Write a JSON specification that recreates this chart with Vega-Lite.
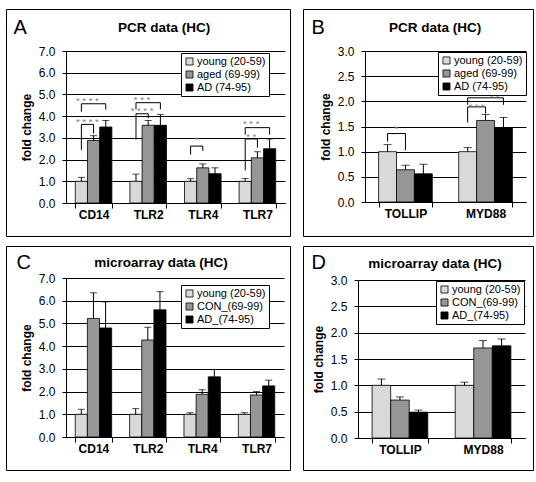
{
 "$schema": "https://vega.github.io/schema/vega-lite/v6.json",
 "padding": {"left": 5, "top": 8, "right": 0, "bottom": 0},
 "background": "white",
 "spacing": 8,
 "resolve": {"scale": {"color": "independent", "xOffset": "independent"}, "legend": {"color": "independent"}},
 "config": {
  "font": "Liberation Sans",
  "view": {"stroke": "black", "strokeWidth": 1},
  "title": {"fontSize": 13.5, "fontWeight": "bold", "color": "black", "anchor": "middle", "frame": "group"},
  "axis": {"domainColor": "black", "tickColor": "black", "labelColor": "black", "titleColor": "black", "gridColor": "black", "gridOpacity": 1, "gridWidth": 1, "domainWidth": 1, "tickWidth": 1},
  "axisBottom": {"labelFontSize": 12, "labelFontWeight": "bold", "labelAngle": 0, "tickBand": "extent", "tickSize": 5, "labelPadding": 1, "grid": false},
  "axisLeft": {"labelFontSize": 12, "tickSize": 4, "labelPadding": 7, "titleFontSize": 12, "titleFontWeight": "bold", "titlePadding": 5, "grid": true, "labelOverlap": false},
  "axisTop": {"labels": false, "ticks": false, "domain": false, "grid": false, "titleAngle": 0, "titleFontSize": 20, "titleFontWeight": "normal", "titleAlign": "left", "titleBaseline": "alphabetic"},
  "legend": {"orient": "none", "strokeColor": "black", "fillColor": "white", "padding": 3, "symbolType": "square", "symbolSize": 50, "symbolStrokeColor": "black", "symbolStrokeWidth": 1, "labelFontSize": 11, "labelColor": "black", "rowPadding": 1, "labelOffset": 2, "cornerRadius": 0},
  "bar": {"stroke": "black", "strokeWidth": 0.8},
  "tick": {"color": "black", "thickness": 1},
  "rule": {"color": "black"},
  "line": {"color": "black", "strokeWidth": 1}
 },
 "datasets": {
  "bars": [
   {"panel": "A", "gene": "CD14", "group": "young (20-59)", "value": 1.0, "err": 1.18},
   {"panel": "A", "gene": "CD14", "group": "aged (69-99)", "value": 2.88, "err": 3.1},
   {"panel": "A", "gene": "CD14", "group": "AD (74-95)", "value": 3.5, "err": 3.8},
   {"panel": "A", "gene": "TLR2", "group": "young (20-59)", "value": 1.0, "err": 1.33},
   {"panel": "A", "gene": "TLR2", "group": "aged (69-99)", "value": 3.58, "err": 3.8},
   {"panel": "A", "gene": "TLR2", "group": "AD (74-95)", "value": 3.58, "err": 4.08},
   {"panel": "A", "gene": "TLR4", "group": "young (20-59)", "value": 1.0, "err": 1.12},
   {"panel": "A", "gene": "TLR4", "group": "aged (69-99)", "value": 1.62, "err": 1.8},
   {"panel": "A", "gene": "TLR4", "group": "AD (74-95)", "value": 1.35, "err": 1.62},
   {"panel": "A", "gene": "TLR7", "group": "young (20-59)", "value": 1.0, "err": 1.13},
   {"panel": "A", "gene": "TLR7", "group": "aged (69-99)", "value": 2.08, "err": 2.36},
   {"panel": "A", "gene": "TLR7", "group": "AD (74-95)", "value": 2.5, "err": 2.95},
   {"panel": "B", "gene": "TOLLIP", "group": "young (20-59)", "value": 1.0, "err": 1.14},
   {"panel": "B", "gene": "TOLLIP", "group": "aged (69-99)", "value": 0.64, "err": 0.73},
   {"panel": "B", "gene": "TOLLIP", "group": "AD (74-95)", "value": 0.56, "err": 0.75},
   {"panel": "B", "gene": "MYD88", "group": "young (20-59)", "value": 1.0, "err": 1.08},
   {"panel": "B", "gene": "MYD88", "group": "aged (69-99)", "value": 1.62, "err": 1.74},
   {"panel": "B", "gene": "MYD88", "group": "AD (74-95)", "value": 1.47, "err": 1.68},
   {"panel": "C", "gene": "CD14", "group": "young (20-59)", "value": 1.0, "err": 1.22},
   {"panel": "C", "gene": "CD14", "group": "CON_(69-99)", "value": 5.22, "err": 6.35},
   {"panel": "C", "gene": "CD14", "group": "AD_(74-95)", "value": 4.8, "err": 5.95},
   {"panel": "C", "gene": "TLR2", "group": "young (20-59)", "value": 1.0, "err": 1.25},
   {"panel": "C", "gene": "TLR2", "group": "CON_(69-99)", "value": 4.27, "err": 4.83},
   {"panel": "C", "gene": "TLR2", "group": "AD_(74-95)", "value": 5.6, "err": 6.4},
   {"panel": "C", "gene": "TLR4", "group": "young (20-59)", "value": 1.0, "err": 1.07},
   {"panel": "C", "gene": "TLR4", "group": "CON_(69-99)", "value": 1.88, "err": 2.08},
   {"panel": "C", "gene": "TLR4", "group": "AD_(74-95)", "value": 2.65, "err": 2.97},
   {"panel": "C", "gene": "TLR7", "group": "young (20-59)", "value": 1.0, "err": 1.07},
   {"panel": "C", "gene": "TLR7", "group": "CON_(69-99)", "value": 1.85, "err": 2.0},
   {"panel": "C", "gene": "TLR7", "group": "AD_(74-95)", "value": 2.25, "err": 2.5},
   {"panel": "D", "gene": "TOLLIP", "group": "young (20-59)", "value": 1.0, "err": 1.12},
   {"panel": "D", "gene": "TOLLIP", "group": "CON_(69-99)", "value": 0.72, "err": 0.78},
   {"panel": "D", "gene": "TOLLIP", "group": "AD_(74-95)", "value": 0.49, "err": 0.53},
   {"panel": "D", "gene": "MYD88", "group": "young (20-59)", "value": 1.0, "err": 1.06},
   {"panel": "D", "gene": "MYD88", "group": "CON_(69-99)", "value": 1.71, "err": 1.85},
   {"panel": "D", "gene": "MYD88", "group": "AD_(74-95)", "value": 1.75, "err": 1.88}
  ],
  "brackets": [
   {"panel": "A", "gene": "CD14", "br": "A1", "ord": 1, "group": "young (20-59)", "y": 2.45},
   {"panel": "A", "gene": "CD14", "br": "A1", "ord": 2, "group": "young (20-59)", "y": 3.62},
   {"panel": "A", "gene": "CD14", "br": "A1", "ord": 3, "group": "aged (69-99)", "y": 3.62},
   {"panel": "A", "gene": "CD14", "br": "A1", "ord": 4, "group": "aged (69-99)", "y": 3.2},
   {"panel": "A", "gene": "CD14", "br": "A2", "ord": 1, "group": "young (20-59)", "y": 4.2},
   {"panel": "A", "gene": "CD14", "br": "A2", "ord": 2, "group": "young (20-59)", "y": 4.57},
   {"panel": "A", "gene": "CD14", "br": "A2", "ord": 3, "group": "AD (74-95)", "y": 4.57},
   {"panel": "A", "gene": "CD14", "br": "A2", "ord": 4, "group": "AD (74-95)", "y": 4.3},
   {"panel": "A", "gene": "TLR2", "br": "A3", "ord": 1, "group": "young (20-59)", "y": 2.92},
   {"panel": "A", "gene": "TLR2", "br": "A3", "ord": 2, "group": "young (20-59)", "y": 4.11},
   {"panel": "A", "gene": "TLR2", "br": "A3", "ord": 3, "group": "aged (69-99)", "y": 4.11},
   {"panel": "A", "gene": "TLR2", "br": "A3", "ord": 4, "group": "aged (69-99)", "y": 3.9},
   {"panel": "A", "gene": "TLR2", "br": "A4", "ord": 1, "group": "young (20-59)", "y": 4.31},
   {"panel": "A", "gene": "TLR2", "br": "A4", "ord": 2, "group": "young (20-59)", "y": 4.62},
   {"panel": "A", "gene": "TLR2", "br": "A4", "ord": 3, "group": "AD (74-95)", "y": 4.62},
   {"panel": "A", "gene": "TLR2", "br": "A4", "ord": 4, "group": "AD (74-95)", "y": 4.31},
   {"panel": "A", "gene": "TLR4", "br": "A5", "ord": 1, "group": "young (20-59)", "y": 2.23},
   {"panel": "A", "gene": "TLR4", "br": "A5", "ord": 2, "group": "young (20-59)", "y": 2.62},
   {"panel": "A", "gene": "TLR4", "br": "A5", "ord": 3, "group": "aged (69-99)", "y": 2.62},
   {"panel": "A", "gene": "TLR4", "br": "A5", "ord": 4, "group": "aged (69-99)", "y": 2.4},
   {"panel": "A", "gene": "TLR7", "br": "A6", "ord": 1, "group": "young (20-59)", "y": 1.5},
   {"panel": "A", "gene": "TLR7", "br": "A6", "ord": 2, "group": "young (20-59)", "y": 2.95},
   {"panel": "A", "gene": "TLR7", "br": "A6", "ord": 3, "group": "aged (69-99)", "y": 2.95},
   {"panel": "A", "gene": "TLR7", "br": "A6", "ord": 4, "group": "aged (69-99)", "y": 2.55},
   {"panel": "A", "gene": "TLR7", "br": "A7", "ord": 1, "group": "young (20-59)", "y": 3.15},
   {"panel": "A", "gene": "TLR7", "br": "A7", "ord": 2, "group": "young (20-59)", "y": 3.47},
   {"panel": "A", "gene": "TLR7", "br": "A7", "ord": 3, "group": "AD (74-95)", "y": 3.47},
   {"panel": "A", "gene": "TLR7", "br": "A7", "ord": 4, "group": "AD (74-95)", "y": 3.15},
   {"panel": "B", "gene": "TOLLIP", "br": "B1", "ord": 1, "group": "young (20-59)", "y": 1.2},
   {"panel": "B", "gene": "TOLLIP", "br": "B1", "ord": 2, "group": "young (20-59)", "y": 1.36},
   {"panel": "B", "gene": "TOLLIP", "br": "B1", "ord": 3, "group": "aged (69-99)", "y": 1.36},
   {"panel": "B", "gene": "TOLLIP", "br": "B1", "ord": 4, "group": "aged (69-99)", "y": 1.03},
   {"panel": "B", "gene": "MYD88", "br": "B2", "ord": 1, "group": "young (20-59)", "y": 1.58},
   {"panel": "B", "gene": "MYD88", "br": "B2", "ord": 2, "group": "young (20-59)", "y": 1.89},
   {"panel": "B", "gene": "MYD88", "br": "B2", "ord": 3, "group": "aged (69-99)", "y": 1.89},
   {"panel": "B", "gene": "MYD88", "br": "B2", "ord": 4, "group": "aged (69-99)", "y": 1.76},
   {"panel": "B", "gene": "MYD88", "br": "B3", "ord": 1, "group": "young (20-59)", "y": 1.93},
   {"panel": "B", "gene": "MYD88", "br": "B3", "ord": 2, "group": "young (20-59)", "y": 2.07},
   {"panel": "B", "gene": "MYD88", "br": "B3", "ord": 3, "group": "AD (74-95)", "y": 2.07},
   {"panel": "B", "gene": "MYD88", "br": "B3", "ord": 4, "group": "AD (74-95)", "y": 1.93}
  ],
  "stars": [
   {"panel": "A", "gene": "CD14", "group": "young (20-59)", "y": 3.85, "stars": "* * * *"},
   {"panel": "A", "gene": "CD14", "group": "young (20-59)", "y": 4.82, "stars": "* * * *"},
   {"panel": "A", "gene": "TLR2", "group": "young (20-59)", "y": 4.35, "stars": "* * * *"},
   {"panel": "A", "gene": "TLR2", "group": "young (20-59)", "y": 4.86, "stars": "* * *"},
   {"panel": "A", "gene": "TLR4", "group": "young (20-59)", "y": 3.0, "stars": "*"},
   {"panel": "A", "gene": "TLR7", "group": "young (20-59)", "y": 3.17, "stars": "* *"},
   {"panel": "A", "gene": "TLR7", "group": "young (20-59)", "y": 3.75, "stars": "* * *"},
   {"panel": "B", "gene": "TOLLIP", "group": "young (20-59)", "y": 1.5, "stars": "*"},
   {"panel": "B", "gene": "MYD88", "group": "young (20-59)", "y": 1.94, "stars": "* * *"},
   {"panel": "B", "gene": "MYD88", "group": "aged (69-99)", "y": 2.13, "stars": "* *"}
  ]
 },
 "vconcat": [
  {
   "spacing": 11,
   "resolve": {"scale": {"color": "independent", "xOffset": "independent"}, "legend": {"color": "independent"}},
   "hconcat": [
    {
     "width": 284, "height": 227,
     "title": {"text": "PCR data (HC)", "offset": -25, "dx": 16},
     "resolve": {"axis": {"x": "independent"}},
     "layer": [
      {
       "data": {"name": "bars"}, "transform": [{"filter": "datum.panel == 'A'"}],
       "mark": "bar",
       "encoding": {
        "x": {"field": "gene", "type": "nominal", "sort": ["CD14", "TLR2", "TLR4", "TLR7"], "scale": {"range": [60, 279], "paddingInner": 0.33, "paddingOuter": 0.17}, "axis": {"orient": "bottom", "offset": -33, "title": null}},
        "xOffset": {"field": "group", "type": "nominal", "sort": ["young (20-59)", "aged (69-99)", "AD (74-95)"], "scale": {"paddingInner": 0, "paddingOuter": 0}},
        "y": {"field": "value", "type": "quantitative", "scale": {"domain": [0, 7], "range": [194, 42], "nice": false}, "axis": {"offset": -60, "values": [0, 1, 2, 3, 4, 5, 6, 7], "format": ".1f", "title": "fold change"}},
        "color": {"field": "group", "type": "nominal", "sort": ["young (20-59)", "aged (69-99)", "AD (74-95)"], "scale": {"range": ["#d9d9d9", "#969696", "#000000"]}, "legend": {"title": null, "legendX": 175, "legendY": 44}}
       }
      },
      {
       "data": {"name": "bars"}, "transform": [{"filter": "datum.panel == 'A'"}],
       "mark": "rule",
       "encoding": {
        "x": {"field": "gene", "type": "nominal", "sort": ["CD14", "TLR2", "TLR4", "TLR7"], "axis": {"orient": "top", "title": "A", "titleX": 7, "titleY": 24}},
        "xOffset": {"field": "group", "type": "nominal", "sort": ["young (20-59)", "aged (69-99)", "AD (74-95)"]},
        "y": {"field": "value", "type": "quantitative", "axis": {"offset": -60, "values": [0, 1, 2, 3, 4, 5, 6, 7], "format": ".1f", "title": "fold change"}},
        "y2": {"field": "err"}
       }
      },
      {
       "data": {"name": "bars"}, "transform": [{"filter": "datum.panel == 'A'"}],
       "mark": {"type": "tick", "orient": "horizontal", "size": 7},
       "encoding": {
        "x": {"field": "gene", "type": "nominal", "sort": ["CD14", "TLR2", "TLR4", "TLR7"], "axis": null},
        "xOffset": {"field": "group", "type": "nominal", "sort": ["young (20-59)", "aged (69-99)", "AD (74-95)"]},
        "y": {"field": "err", "type": "quantitative", "axis": {"offset": -60, "values": [0, 1, 2, 3, 4, 5, 6, 7], "format": ".1f", "title": "fold change"}}
       }
      },
      {
       "data": {"name": "brackets"}, "transform": [{"filter": "datum.panel == 'A'"}],
       "mark": "line",
       "encoding": {
        "x": {"field": "gene", "type": "nominal", "sort": ["CD14", "TLR2", "TLR4", "TLR7"], "axis": null},
        "xOffset": {"field": "group", "type": "nominal", "sort": ["young (20-59)", "aged (69-99)", "AD (74-95)"]},
        "y": {"field": "y", "type": "quantitative", "axis": {"offset": -60, "values": [0, 1, 2, 3, 4, 5, 6, 7], "format": ".1f", "title": "fold change"}},
        "detail": {"field": "br"},
        "order": {"field": "ord", "type": "quantitative"}
       }
      },
      {
       "data": {"name": "stars"}, "transform": [{"filter": "datum.panel == 'A'"}],
       "mark": {"type": "text", "dx": 6, "dy": 2.5, "baseline": "middle", "align": "center", "fontSize": 9.5, "color": "#808080"},
       "encoding": {
        "x": {"field": "gene", "type": "nominal", "sort": ["CD14", "TLR2", "TLR4", "TLR7"], "axis": null},
        "xOffset": {"field": "group", "type": "nominal", "sort": ["young (20-59)", "aged (69-99)", "AD (74-95)"]},
        "y": {"field": "y", "type": "quantitative", "axis": {"offset": -60, "values": [0, 1, 2, 3, 4, 5, 6, 7], "format": ".1f", "title": "fold change"}},
        "text": {"field": "stars"}
       }
      }
     ]
    },
    {
     "width": 230, "height": 227,
     "title": {"text": "PCR data (HC)", "offset": -25, "dx": 17},
     "resolve": {"axis": {"x": "independent"}},
     "layer": [
      {
       "data": {"name": "bars"}, "transform": [{"filter": "datum.panel == 'B'"}],
       "mark": "bar",
       "encoding": {
        "x": {"field": "gene", "type": "nominal", "sort": ["TOLLIP", "MYD88"], "scale": {"range": [62, 223], "paddingInner": 0.33, "paddingOuter": 0.17}, "axis": {"orient": "bottom", "offset": -34, "title": null}},
        "xOffset": {"field": "group", "type": "nominal", "sort": ["young (20-59)", "aged (69-99)", "AD (74-95)"], "scale": {"paddingInner": 0, "paddingOuter": 0}},
        "y": {"field": "value", "type": "quantitative", "scale": {"domain": [0, 3], "range": [193, 42], "nice": false}, "axis": {"offset": -62, "values": [0, 0.5, 1, 1.5, 2, 2.5, 3], "format": ".1f", "title": "fold change"}},
        "color": {"field": "group", "type": "nominal", "sort": ["young (20-59)", "aged (69-99)", "AD (74-95)"], "scale": {"range": ["#d9d9d9", "#969696", "#000000"]}, "legend": {"title": null, "legendX": 135, "legendY": 43}}
       }
      },
      {
       "data": {"name": "bars"}, "transform": [{"filter": "datum.panel == 'B'"}],
       "mark": "rule",
       "encoding": {
        "x": {"field": "gene", "type": "nominal", "sort": ["TOLLIP", "MYD88"], "axis": {"orient": "top", "title": "B", "titleX": 8, "titleY": 24}},
        "xOffset": {"field": "group", "type": "nominal", "sort": ["young (20-59)", "aged (69-99)", "AD (74-95)"]},
        "y": {"field": "value", "type": "quantitative", "axis": {"offset": -62, "values": [0, 0.5, 1, 1.5, 2, 2.5, 3], "format": ".1f", "title": "fold change"}},
        "y2": {"field": "err"}
       }
      },
      {
       "data": {"name": "bars"}, "transform": [{"filter": "datum.panel == 'B'"}],
       "mark": {"type": "tick", "orient": "horizontal", "size": 8},
       "encoding": {
        "x": {"field": "gene", "type": "nominal", "sort": ["TOLLIP", "MYD88"], "axis": null},
        "xOffset": {"field": "group", "type": "nominal", "sort": ["young (20-59)", "aged (69-99)", "AD (74-95)"]},
        "y": {"field": "err", "type": "quantitative", "axis": {"offset": -62, "values": [0, 0.5, 1, 1.5, 2, 2.5, 3], "format": ".1f", "title": "fold change"}}
       }
      },
      {
       "data": {"name": "brackets"}, "transform": [{"filter": "datum.panel == 'B'"}],
       "mark": "line",
       "encoding": {
        "x": {"field": "gene", "type": "nominal", "sort": ["TOLLIP", "MYD88"], "axis": null},
        "xOffset": {"field": "group", "type": "nominal", "sort": ["young (20-59)", "aged (69-99)", "AD (74-95)"]},
        "y": {"field": "y", "type": "quantitative", "axis": {"offset": -62, "values": [0, 0.5, 1, 1.5, 2, 2.5, 3], "format": ".1f", "title": "fold change"}},
        "detail": {"field": "br"},
        "order": {"field": "ord", "type": "quantitative"}
       }
      },
      {
       "data": {"name": "stars"}, "transform": [{"filter": "datum.panel == 'B'"}],
       "mark": {"type": "text", "dx": 9, "dy": 2.5, "baseline": "middle", "align": "center", "fontSize": 9, "color": "#808080"},
       "encoding": {
        "x": {"field": "gene", "type": "nominal", "sort": ["TOLLIP", "MYD88"], "axis": null},
        "xOffset": {"field": "group", "type": "nominal", "sort": ["young (20-59)", "aged (69-99)", "AD (74-95)"]},
        "y": {"field": "y", "type": "quantitative", "axis": {"offset": -62, "values": [0, 0.5, 1, 1.5, 2, 2.5, 3], "format": ".1f", "title": "fold change"}},
        "text": {"field": "stars"}
       }
      }
     ]
    }
   ]
  },
  {
   "spacing": 11,
   "resolve": {"scale": {"color": "independent", "xOffset": "independent"}, "legend": {"color": "independent"}},
   "hconcat": [
    {
     "width": 284, "height": 224,
     "title": {"text": "microarray data (HC)", "offset": -23, "dx": 13},
     "resolve": {"axis": {"x": "independent"}},
     "layer": [
      {
       "data": {"name": "bars"}, "transform": [{"filter": "datum.panel == 'C'"}],
       "mark": "bar",
       "encoding": {
        "x": {"field": "gene", "type": "nominal", "sort": ["CD14", "TLR2", "TLR4", "TLR7"], "scale": {"range": [60, 278], "paddingInner": 0.33, "paddingOuter": 0.17}, "axis": {"orient": "bottom", "offset": -33, "title": null}},
        "xOffset": {"field": "group", "type": "nominal", "sort": ["young (20-59)", "CON_(69-99)", "AD_(74-95)"], "scale": {"paddingInner": 0, "paddingOuter": 0}},
        "y": {"field": "value", "type": "quantitative", "scale": {"domain": [0, 7], "range": [191, 32], "nice": false}, "axis": {"offset": -60, "values": [0, 1, 2, 3, 4, 5, 6, 7], "format": ".1f", "title": "fold change"}},
        "color": {"field": "group", "type": "nominal", "sort": ["young (20-59)", "CON_(69-99)", "AD_(74-95)"], "scale": {"range": ["#d9d9d9", "#969696", "#000000"]}, "legend": {"title": null, "legendX": 175, "legendY": 39}}
       }
      },
      {
       "data": {"name": "bars"}, "transform": [{"filter": "datum.panel == 'C'"}],
       "mark": "rule",
       "encoding": {
        "x": {"field": "gene", "type": "nominal", "sort": ["CD14", "TLR2", "TLR4", "TLR7"], "axis": {"orient": "top", "title": "C", "titleX": 10, "titleY": 22}},
        "xOffset": {"field": "group", "type": "nominal", "sort": ["young (20-59)", "CON_(69-99)", "AD_(74-95)"]},
        "y": {"field": "value", "type": "quantitative", "axis": {"offset": -60, "values": [0, 1, 2, 3, 4, 5, 6, 7], "format": ".1f", "title": "fold change"}},
        "y2": {"field": "err"}
       }
      },
      {
       "data": {"name": "bars"}, "transform": [{"filter": "datum.panel == 'C'"}],
       "mark": {"type": "tick", "orient": "horizontal", "size": 7},
       "encoding": {
        "x": {"field": "gene", "type": "nominal", "sort": ["CD14", "TLR2", "TLR4", "TLR7"], "axis": null},
        "xOffset": {"field": "group", "type": "nominal", "sort": ["young (20-59)", "CON_(69-99)", "AD_(74-95)"]},
        "y": {"field": "err", "type": "quantitative", "axis": {"offset": -60, "values": [0, 1, 2, 3, 4, 5, 6, 7], "format": ".1f", "title": "fold change"}}
       }
      }
     ]
    },
    {
     "width": 230, "height": 224,
     "title": {"text": "microarray data  (HC)", "offset": -24, "dx": 17},
     "resolve": {"axis": {"x": "independent"}},
     "layer": [
      {
       "data": {"name": "bars"}, "transform": [{"filter": "datum.panel == 'D'"}],
       "mark": "bar",
       "encoding": {
        "x": {"field": "gene", "type": "nominal", "sort": ["TOLLIP", "MYD88"], "scale": {"range": [55, 222], "paddingInner": 0.33, "paddingOuter": 0.17}, "axis": {"orient": "bottom", "offset": -32, "title": null}},
        "xOffset": {"field": "group", "type": "nominal", "sort": ["young (20-59)", "CON_(69-99)", "AD_(74-95)"], "scale": {"paddingInner": 0, "paddingOuter": 0}},
        "y": {"field": "value", "type": "quantitative", "scale": {"domain": [0, 3], "range": [192, 34], "nice": false}, "axis": {"offset": -55, "values": [0, 0.5, 1, 1.5, 2, 2.5, 3], "format": ".1f", "title": "fold change"}},
        "color": {"field": "group", "type": "nominal", "sort": ["young (20-59)", "CON_(69-99)", "AD_(74-95)"], "scale": {"range": ["#d9d9d9", "#969696", "#000000"]}, "legend": {"title": null, "legendX": 133, "legendY": 35}}
       }
      },
      {
       "data": {"name": "bars"}, "transform": [{"filter": "datum.panel == 'D'"}],
       "mark": "rule",
       "encoding": {
        "x": {"field": "gene", "type": "nominal", "sort": ["TOLLIP", "MYD88"], "axis": {"orient": "top", "title": "D", "titleX": 8, "titleY": 22}},
        "xOffset": {"field": "group", "type": "nominal", "sort": ["young (20-59)", "CON_(69-99)", "AD_(74-95)"]},
        "y": {"field": "value", "type": "quantitative", "axis": {"offset": -55, "values": [0, 0.5, 1, 1.5, 2, 2.5, 3], "format": ".1f", "title": "fold change"}},
        "y2": {"field": "err"}
       }
      },
      {
       "data": {"name": "bars"}, "transform": [{"filter": "datum.panel == 'D'"}],
       "mark": {"type": "tick", "orient": "horizontal", "size": 8},
       "encoding": {
        "x": {"field": "gene", "type": "nominal", "sort": ["TOLLIP", "MYD88"], "axis": null},
        "xOffset": {"field": "group", "type": "nominal", "sort": ["young (20-59)", "CON_(69-99)", "AD_(74-95)"]},
        "y": {"field": "err", "type": "quantitative", "axis": {"offset": -55, "values": [0, 0.5, 1, 1.5, 2, 2.5, 3], "format": ".1f", "title": "fold change"}}
       }
      }
     ]
    }
   ]
  }
 ]
}
